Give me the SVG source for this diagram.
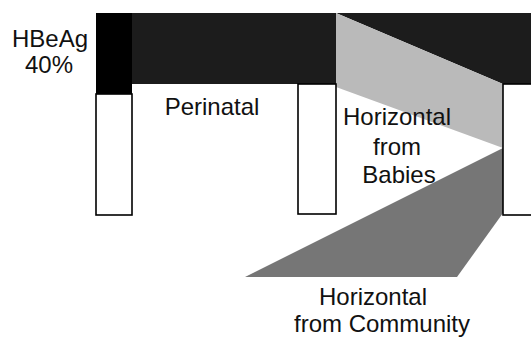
<svg xmlns="http://www.w3.org/2000/svg" width="531" height="337" viewBox="0 0 531 337">
<style>
text{font-family:"Liberation Sans",Arial,sans-serif;font-size:24px;fill:#111;text-anchor:middle}
.box{fill:#fff;stroke:#000;stroke-width:1.6}
.dark{fill:#1c1c1c}
.light{fill:#bababa}
.mid{fill:#767676}
</style>
<rect width="531" height="337" fill="#fff"/>
<g id="flows">
<polygon class="dark" points="132,13 336,13 336,84 132,84"/>
<polygon class="dark" points="336,13 531,13 531,84 503,84"/>
<polygon class="light" points="336,13 503,84 503,148 336,87"/>
<polygon class="mid" points="503,148 503,213 457,277 245,277"/>
</g>
<g id="bar1">
<rect x="96" y="13" width="36" height="81" fill="#000"/>
<rect class="box" x="96" y="94" width="36" height="121"/>
</g>
<g id="bar2">
<rect class="box" x="298" y="84" width="38" height="130"/>
</g>
<g id="bar3">
<rect class="box" x="503" y="84" width="40" height="131"/>
</g>
<g id="labels">
<text x="50" y="47">HBeAg</text>
<text x="49" y="73">40%</text>
<text x="212" y="115">Perinatal</text>
<text x="397" y="125">Horizontal</text>
<text x="397" y="155">from</text>
<text x="399" y="183">Babies</text>
<text x="373" y="305">Horizontal</text>
<text x="382" y="332">from Community</text>
</g>
</svg>
